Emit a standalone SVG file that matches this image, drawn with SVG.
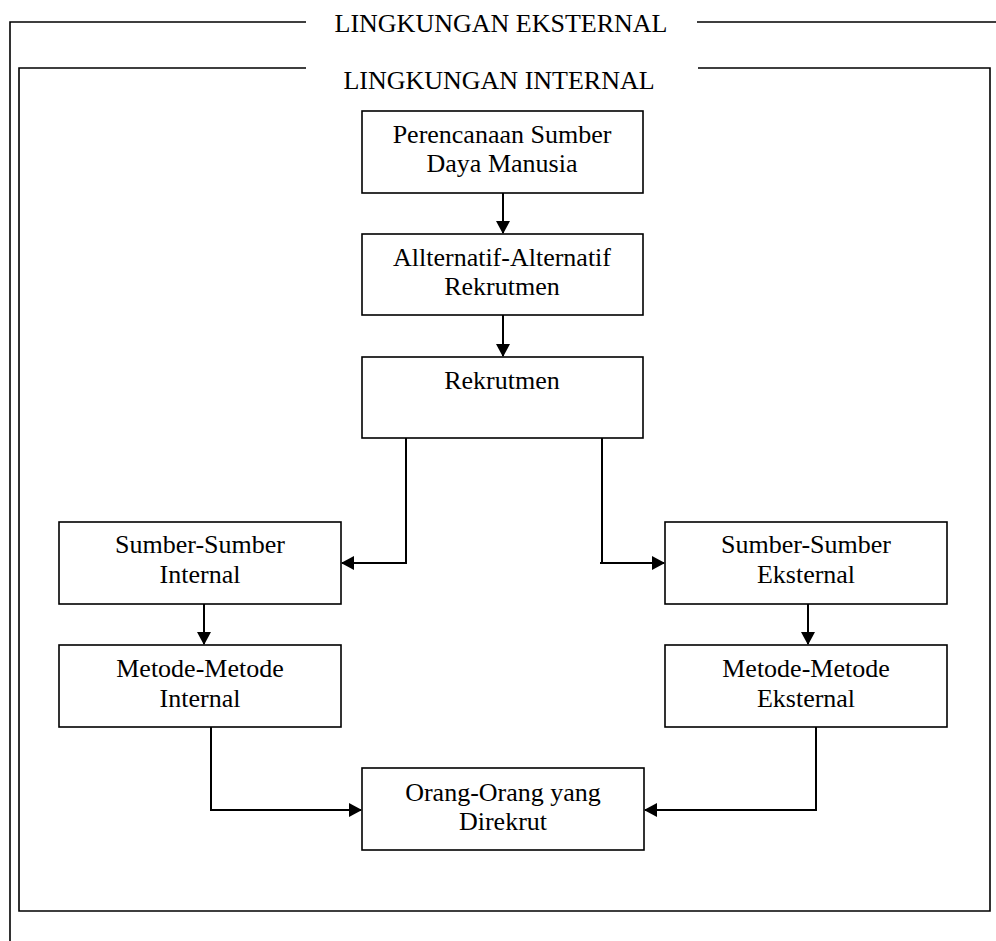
<svg xmlns="http://www.w3.org/2000/svg" width="996" height="941" viewBox="0 0 996 941">
<style>
.box{fill:#fff;stroke:#000;stroke-width:1.6}
.frame{fill:none;stroke:#000;stroke-width:1.6}
.conn{fill:none;stroke:#000;stroke-width:2}
text{font-family:"Liberation Serif","Times New Roman",serif;font-size:26px;fill:#000;text-anchor:middle}
</style>
<defs>
<marker id="ah" markerWidth="13" markerHeight="14" refX="12" refY="7" orient="auto" markerUnits="userSpaceOnUse">
<path d="M0,0 L13,7 L0,14 Z" fill="#000"/>
</marker>
</defs>
<rect width="996" height="941" fill="#fff"/>
<g id="frame-eksternal">
<path class="frame" d="M306,22 H10 V941 M697,22 H996"/>
<text x="501" y="32">LINGKUNGAN EKSTERNAL</text>
</g>
<g id="frame-internal">
<path class="frame" d="M306,68 H19 V911 H990 V68 H698"/>
<text x="499" y="89">LINGKUNGAN INTERNAL</text>
</g>
<g id="perencanaan">
<rect class="box" x="362" y="111" width="281" height="82"/>
<text x="502" y="143">Perencanaan Sumber</text>
<text x="502" y="172">Daya Manusia</text>
</g>
<g id="alternatif">
<rect class="box" x="362" y="234" width="281" height="81"/>
<text x="502" y="266">Allternatif-Alternatif</text>
<text x="502" y="295">Rekrutmen</text>
</g>
<g id="rekrutmen">
<rect class="box" x="362" y="357" width="281" height="81"/>
<text x="502" y="389">Rekrutmen</text>
</g>
<g id="sumber-internal">
<rect class="box" x="59" y="522" width="282" height="82"/>
<text x="200" y="553">Sumber-Sumber</text>
<text x="200" y="583">Internal</text>
</g>
<g id="metode-internal">
<rect class="box" x="59" y="645" width="282" height="82"/>
<text x="200" y="677">Metode-Metode</text>
<text x="200" y="707">Internal</text>
</g>
<g id="sumber-eksternal">
<rect class="box" x="665" y="522" width="282" height="82"/>
<text x="806" y="553">Sumber-Sumber</text>
<text x="806" y="583">Eksternal</text>
</g>
<g id="metode-eksternal">
<rect class="box" x="665" y="645" width="282" height="82"/>
<text x="806" y="677">Metode-Metode</text>
<text x="806" y="707">Eksternal</text>
</g>
<g id="direkrut">
<rect class="box" x="362" y="768" width="282" height="82"/>
<text x="503" y="801">Orang-Orang yang</text>
<text x="503" y="830">Direkrut</text>
</g>
<g id="connectors">
<path class="conn" d="M503,193 V233" marker-end="url(#ah)"/>
<path class="conn" d="M503,315 V356" marker-end="url(#ah)"/>
<path class="conn" d="M406,438 V563 H342" marker-end="url(#ah)"/>
<path class="conn" d="M602,438 V563 M600,563 H664" marker-end="url(#ah)"/>
<path class="conn" d="M204,604 V644" marker-end="url(#ah)"/>
<path class="conn" d="M808,604 V644" marker-end="url(#ah)"/>
<path class="conn" d="M211,727 V810 H361" marker-end="url(#ah)"/>
<path class="conn" d="M816,727 V810 H645" marker-end="url(#ah)"/>
</g>
</svg>
